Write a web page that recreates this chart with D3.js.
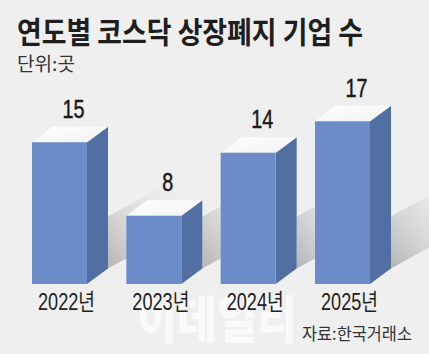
<!DOCTYPE html>
<html>
<head>
<meta charset="utf-8">
<script src="https://cdn.jsdelivr.net/npm/d3@7"></script>
<style>
  html, body { margin: 0; padding: 0; background: #efefef; }
  svg { display: block; }
</style>
</head>
<body>
<svg id="chart"></svg>
<script>
// data
const years = ["2022년", "2023년", "2024년", "2025년"];
const values = [15, 8, 14, 17];
const title = "연도별 코스닥 상장폐지 기업 수";
const unitLabel = "단위:곳";
const sourceLabel = "자료:한국거래소";

const W = 429, H = 354;
const base = 284;
const dx = 21, dy = 15.5;

const svg = d3.select("#chart").attr("width", W).attr("height", H);
svg.append("rect").attr("width", W).attr("height", H).attr("fill", "#efefef");

const defs = svg.append("defs");
const sg = defs.append("linearGradient").attr("id", "shadow")
  .attr("x1", 0).attr("y1", 1).attr("x2", 1).attr("y2", 0);
sg.append("stop").attr("offset", "0%").attr("stop-color", "#a9a9a9").attr("stop-opacity", 0.85);
sg.append("stop").attr("offset", "100%").attr("stop-color", "#efefef").attr("stop-opacity", 0);

const tg = defs.append("linearGradient").attr("id", "topface")
  .attr("x1", 0).attr("y1", 0).attr("x2", 1).attr("y2", 1);
tg.append("stop").attr("offset", "0%").attr("stop-color", "#ffffff");
tg.append("stop").attr("offset", "100%").attr("stop-color", "#f2f2f2");

// scales
const x = d3.scaleBand()
  .domain(years)
  .range([32, 370])
  .paddingInner(0.417)
  .paddingOuter(0);

const y = d3.scaleLinear()
  .domain([1.5, 17.5])
  .range([base, 116]);

const data = years.map((yr, i) => ({ year: yr, value: values[i] }));
const bw = x.bandwidth();

// shadows behind the bars
svg.append("g").selectAll("path")
  .data(data)
  .enter()
  .append("path")
  .attr("d", d => {
    const xb = x(d.year) + bw + dx, yb = base - dy;
    const L = 75, s = 0.55, hgt = 52;
    return `M${xb},${yb} L${xb},${yb - hgt} L${xb + L},${yb - hgt - L * s} L${xb + L},${yb - L * s} Z`;
  })
  .attr("fill", "url(#shadow)");

// watermark
svg.append("text")
  .attr("x", 217).attr("y", 338)
  .attr("text-anchor", "middle")
  .attr("textLength", 160).attr("lengthAdjust", "spacingAndGlyphs")
  .style("font-family", "'Noto Sans CJK KR', sans-serif")
  .style("font-weight", 900)
  .style("font-size", "50px")
  .style("fill", "#ffffff")
  .style("opacity", 0.7)
  .text("이데일리");

const bars = svg.append("g").selectAll("g")
  .data(data)
  .enter()
  .append("g");

// side face
bars.append("path")
  .attr("d", d => {
    const x1 = x(d.year) + bw, yt = y(d.value);
    return `M${x1},${yt} L${x1 + dx},${yt - dy} L${x1 + dx},${base - dy} L${x1},${base} Z`;
  })
  .attr("fill", "#526fa3");

// top face
bars.append("path")
  .attr("d", d => {
    const x0 = x(d.year), yt = y(d.value);
    return `M${x0},${yt} L${x0 + bw},${yt} L${x0 + bw + dx},${yt - dy} L${x0 + dx},${yt - dy} Z`;
  })
  .attr("fill", "url(#topface)");

// front face
bars.append("rect")
  .attr("x", d => x(d.year))
  .attr("y", d => y(d.value))
  .attr("width", bw)
  .attr("height", d => base - y(d.value))
  .attr("fill", "#6b8cc9");

// value labels
bars.append("text")
  .attr("x", d => x(d.year) + bw / 2 + 14)
  .attr("y", d => y(d.value) - dy - 9)
  .attr("text-anchor", "middle")
  .attr("textLength", d => String(d.value).length * 11)
  .attr("lengthAdjust", "spacingAndGlyphs")
  .style("font-family", "'Liberation Sans', Arial, sans-serif")
  .style("font-size", "25px")
  .style("stroke", "#1a1a1a")
  .style("stroke-width", 0.5)
  .style("fill", "#1a1a1a")
  .text(d => d.value);

// year labels
bars.append("text")
  .attr("x", d => x(d.year) + bw / 2 + 7)
  .attr("y", 310)
  .attr("text-anchor", "middle")
  .attr("textLength", 57).attr("lengthAdjust", "spacingAndGlyphs")
  .style("font-family", "'Liberation Sans', 'Noto Sans CJK KR', sans-serif")
  .style("font-size", "23px")
  .style("fill", "#222")
  .text(d => d.year);

// title
svg.append("text")
  .attr("x", 17).attr("y", 43)
  .attr("textLength", 346).attr("lengthAdjust", "spacingAndGlyphs")
  .style("font-family", "'Noto Sans CJK KR', sans-serif")
  .style("font-weight", "bold")
  .style("font-size", "30px")
  .style("fill", "#1e1e1e")
  .text(title);

// unit
svg.append("text")
  .attr("x", 17).attr("y", 71)
  .attr("textLength", 58).attr("lengthAdjust", "spacingAndGlyphs")
  .style("font-family", "'Noto Sans CJK KR', sans-serif")
  .style("font-size", "19px")
  .style("fill", "#333")
  .text(unitLabel);

// source
svg.append("text")
  .attr("x", 302).attr("y", 340)
  .attr("textLength", 110).attr("lengthAdjust", "spacingAndGlyphs")
  .style("font-family", "'Noto Sans CJK KR', sans-serif")
  .style("font-size", "17px")
  .style("fill", "#333")
  .text(sourceLabel);
</script>
</body>
</html>
